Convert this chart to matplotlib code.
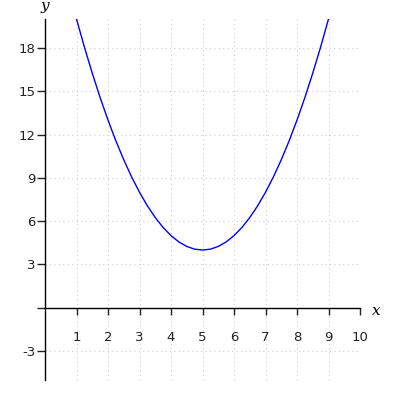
import matplotlib
matplotlib.use("Agg")
import matplotlib.pyplot as plt
from matplotlib.ticker import FixedLocator, FixedFormatter

xs = [1, 1.25, 1.5, 1.75, 2, 2.25, 2.5, 2.75, 3, 3.25, 3.5, 3.75, 4, 4.25, 4.5, 4.75,
      5, 5.25, 5.5, 5.75, 6, 6.25, 6.5, 6.75, 7, 7.25, 7.5, 7.75, 8, 8.25, 8.5, 8.75, 9]
ys = [20, 18.06, 16.25, 14.56, 13, 11.56, 10.25, 9.06, 8, 7.06, 6.25, 5.56, 5, 4.56, 4.25, 4.06,
      4, 4.06, 4.25, 4.56, 5, 5.56, 6.25, 7.06, 8, 9.06, 10.25, 11.56, 13, 14.56, 16.25, 18.06, 20]

xticks = [1, 2, 3, 4, 5, 6, 7, 8, 9, 10]
xticklabels = ["1", "2", "3", "4", "5", "6", "7", "8", "9", "10"]
yticks = [-3, 0, 3, 6, 9, 12, 15, 18]
yticklabels = ["-3", "", "3", "6", "9", "12", "15", "18"]

fig = plt.figure(figsize=(4, 4), dpi=100)
ax = fig.add_axes([0.1125, 0.05, 0.7875, 0.9025])
ax.set_xlim(0, 10)
ax.set_ylim(-5, 20)

ax.plot(xs, ys, color="#0000ff", linewidth=1.0, zorder=3)

for s in ["top", "right"]:
    ax.spines[s].set_visible(False)
ax.spines["bottom"].set_position(("data", 0))
ax.spines["left"].set_position(("data", 0))
for s in ["bottom", "left"]:
    ax.spines[s].set_linewidth(1.0)
    ax.spines[s].set_color("black")

ax.xaxis.set_major_locator(FixedLocator(xticks))
ax.xaxis.set_major_formatter(FixedFormatter(xticklabels))
ax.yaxis.set_major_locator(FixedLocator(yticks))
ax.yaxis.set_major_formatter(FixedFormatter(yticklabels))

ax.tick_params(axis="x", direction="out", length=5, width=1, pad=11.5, labelsize=9.5, colors="#222222")
ax.tick_params(axis="y", direction="out", length=5.5, width=1, pad=1.5, labelsize=9.5, colors="#222222")

ax.grid(True, color="#cccccc", linestyle=(0, (1, 3)), linewidth=0.8, zorder=0)
ax.set_axisbelow(True)

ax.text(1.051, 0.192, "x", transform=ax.transAxes, fontsize=11, family="DejaVu Serif",
        style="italic", ha="center", va="center")
ax.text(0.0, 1.036, "y", transform=ax.transAxes, fontsize=11, family="DejaVu Serif",
        style="italic", ha="center", va="center")

fig.savefig("out.png", dpi=100)
